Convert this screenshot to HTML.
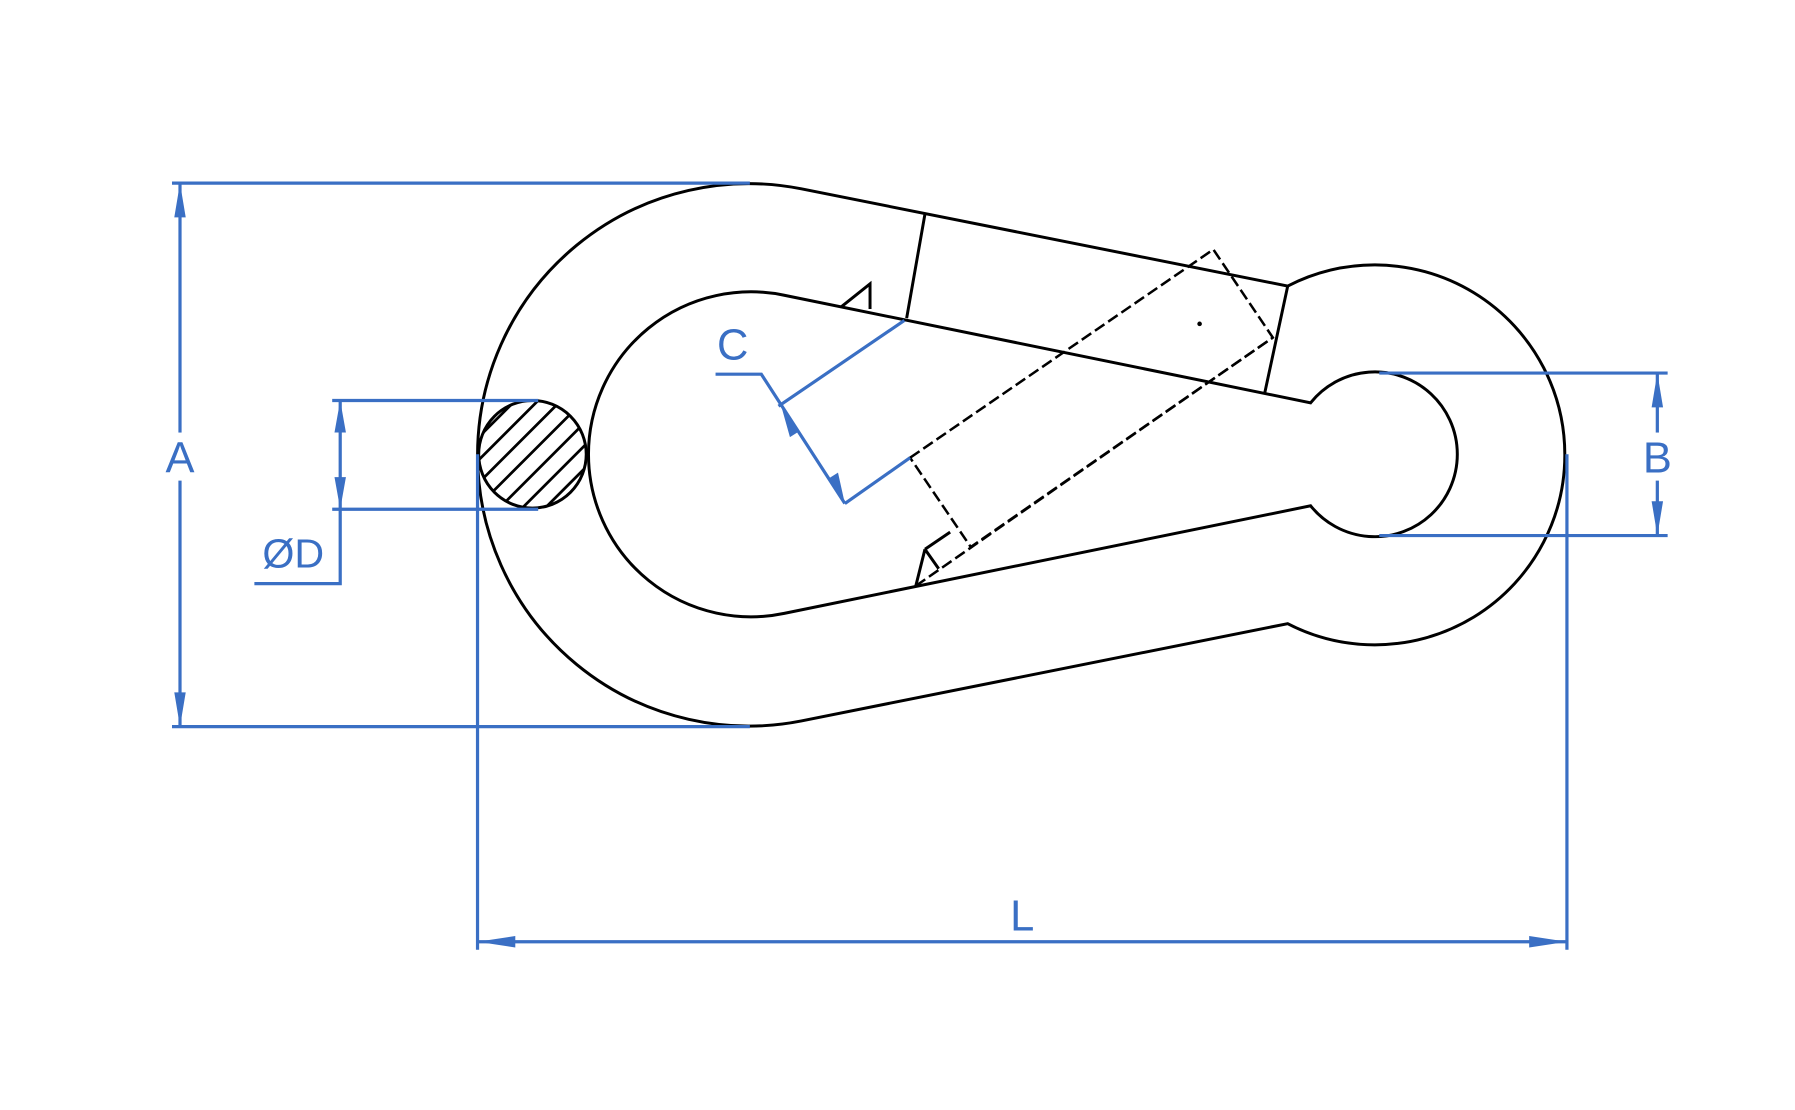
<!DOCTYPE html>
<html><head><meta charset="utf-8"><style>
html,body{margin:0;padding:0;background:#fff;}
svg{display:block;}
text{font-family:"Liberation Sans",sans-serif;fill:#3a6fc4;}
</style></head><body>
<svg width="1795" height="1110" viewBox="0 0 1568 970" xmlns="http://www.w3.org/2000/svg">
<defs>
<clipPath id="cc"><circle cx="465" cy="397" r="47"/></clipPath>
</defs>
<g fill="none" stroke="#000" stroke-width="2.6">
<path d="M700,165 L1125,250 A166,166 0 1 1 1125,545 L700,630 A237,237 0 1 1 700,165 Z"/>
<path d="M685,258 L1145,352 A72,72 0 1 1 1145,442 L685,536 A142,142 0 1 1 685,258 Z"/>
<path d="M808,187 L792,278 M1125,250 L1105,343"/>
<path d="M735,268 L760,248 L760,270"/>
<path d="M808,480 L830,465 M808,480 L800,512 M808,480 L820,497"/>
</g>
<g fill="none" stroke="#000" stroke-width="2.2" stroke-dasharray="10,4">
<path d="M795,400 L1060,218 L1112,295 L848,478 Z"/>
<path d="M800,512 L1112,295"/>
</g>
<circle cx="1048" cy="283" r="2" fill="#000"/>
<g clip-path="url(#cc)" stroke="#000" stroke-width="2.4">
<path d="M360,420 L480,300 M370,430 L490,310 M380,440 L500,320 M390,450 L510,330 M400,460 L520,340 M410,470 L530,350 M420,480 L540,360 M430,490 L550,370 M440,500 L560,380 M450,510 L570,390 M460,520 L580,400 M350,410 L470,290"/>
</g>
<circle cx="465" cy="397" r="47" fill="none" stroke="#000" stroke-width="2.6"/>
<g fill="none" stroke="#3a6fc4" stroke-width="2.8">
<path d="M150,160 H655 M150,635 H655 M157,160 V635"/>
<path d="M290,350 H470 M290,445 H470 M297,350 V510 H222"/>
<path d="M625,327 H665 L738,440 M680,355 L790,280 M738,440 L795,400"/>
<path d="M1205,326 H1457 M1205,468 H1457 M1448,326 V468"/>
<path d="M417,397 V830 M1369,397 V830 M417,823 H1369"/>
</g>
<g fill="#3a6fc4">
<path d="M157,160 L152,190 L162,190 Z M157,635 L152,605 L162,605 Z"/>
<path d="M297,350 L292,378 L302,378 Z M297,445 L292,417 L302,417 Z"/>
<path d="M1448,326 L1443,356 L1453,356 Z M1448,468 L1443,438 L1453,438 Z"/>
<path d="M417,823 L450,818 L450,828 Z M1369,823 L1336,818 L1336,828 Z"/>
<path d="M683,357 L690,382 L698,377 Z M738,440 L724,418 L732,413 Z"/>
</g>
<rect x="140" y="378" width="34" height="42" fill="#fff"/>
<rect x="1431" y="378" width="34" height="42" fill="#fff"/>
<text x="157" y="413" font-size="38" text-anchor="middle">A</text>
<text x="256" y="496" font-size="36" text-anchor="middle">ØD</text>
<text x="640" y="314" font-size="38" text-anchor="middle">C</text>
<text x="1448" y="413" font-size="38" text-anchor="middle">B</text>
<text x="893" y="813" font-size="38" text-anchor="middle">L</text>
</svg>
</body></html>
